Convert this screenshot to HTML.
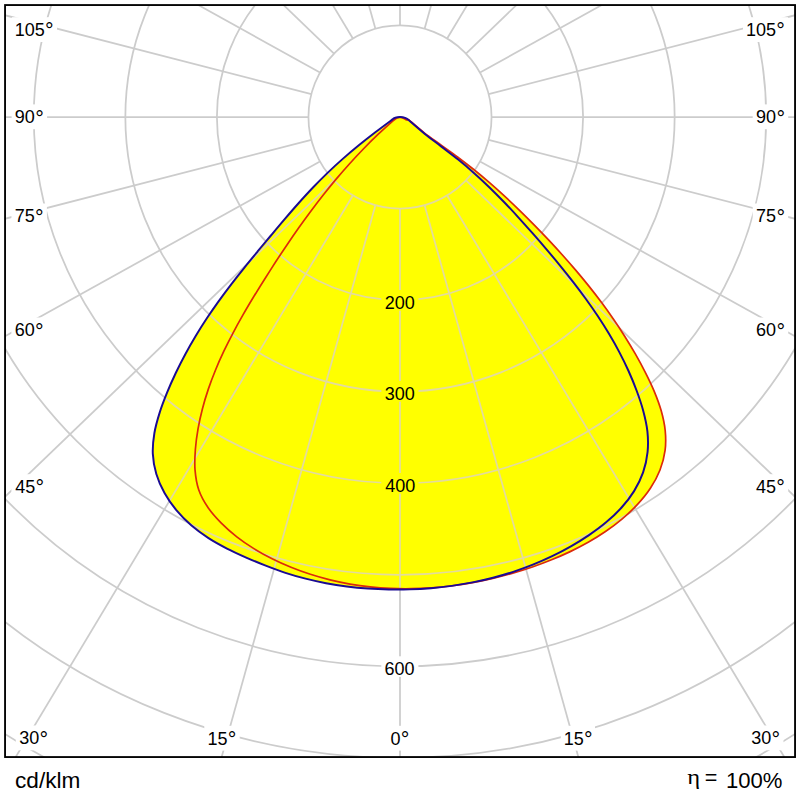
<!DOCTYPE html>
<html><head><meta charset="utf-8"><title>Polar</title>
<style>
html,body{margin:0;padding:0;background:#fff;}
body{width:800px;height:800px;overflow:hidden;font-family:"Liberation Sans",sans-serif;}
svg{display:block;}
text{font-family:"Liberation Sans",sans-serif;font-size:18px;fill:#000;}
.b{font-size:21.5px;}
</style></head><body>
<svg width="800" height="800" viewBox="0 0 800 800">
<defs>
<clipPath id="frame"><rect x="5.05" y="5.05" width="790.0" height="752.0"/></clipPath>
<clipPath id="fillclip"><path d="M392.51,119.40C389.81,121.41 380.99,127.90 375.65,132.01C370.30,136.11 364.33,140.79 359.11,145.05C353.89,149.32 348.08,154.19 343.03,158.64C337.98,163.09 332.39,168.20 327.55,172.86C322.71,177.52 317.40,182.90 312.75,187.76C308.11,192.62 303.02,198.22 298.53,203.24C294.04,208.26 289.09,214.00 284.70,219.12C280.32,224.24 275.45,230.07 271.12,235.25C266.78,240.42 261.91,246.26 257.61,251.47C253.31,256.67 248.47,262.52 244.25,267.78C240.02,273.03 235.31,278.96 231.23,284.29C227.14,289.62 222.63,295.67 218.74,301.12C214.84,306.57 210.55,312.75 206.86,318.33C203.18,323.92 199.14,330.27 195.69,336.01C192.24,341.75 188.49,348.29 185.30,354.21C182.11,360.13 178.66,366.89 175.76,373.01C172.86,379.13 169.73,386.14 167.16,392.48C164.58,398.82 161.72,406.13 159.67,412.65C157.62,419.18 155.46,426.67 154.37,433.26C153.27,439.85 152.51,447.34 152.82,453.85C153.13,460.36 154.44,467.70 156.32,473.97C158.19,480.23 161.29,487.20 164.53,493.03C167.77,498.87 172.24,505.23 176.55,510.43C180.87,515.64 186.38,521.14 191.50,525.57C196.61,529.99 202.84,534.43 208.52,538.10C214.20,541.78 220.94,545.43 226.97,548.54C233.00,551.65 240.02,554.80 246.22,557.54C252.42,560.28 259.43,563.22 265.71,565.67C271.98,568.11 279.04,570.74 285.42,572.81C291.79,574.89 299.05,576.99 305.55,578.64C312.05,580.30 319.44,581.92 326.04,583.17C332.64,584.42 340.13,585.59 346.81,586.45C353.48,587.30 361.04,588.05 367.77,588.53C374.49,589.02 382.09,589.35 388.83,589.49C395.58,589.62 403.18,589.57 409.92,589.36C416.66,589.15 424.24,588.72 430.95,588.16C437.66,587.60 445.20,586.77 451.86,585.85C458.52,584.93 465.99,583.69 472.58,582.39C479.17,581.09 486.54,579.43 493.03,577.74C499.53,576.05 506.78,573.94 513.16,571.85C519.54,569.76 526.65,567.19 532.89,564.69C539.13,562.19 546.08,559.14 552.15,556.21C558.23,553.28 564.99,549.74 570.88,546.37C576.78,543.00 583.37,538.97 589.00,535.13C594.63,531.28 600.91,526.72 606.09,522.34C611.27,517.96 616.90,512.75 621.38,507.75C625.85,502.76 630.60,496.77 634.07,491.12C637.55,485.47 640.95,478.67 643.11,472.44C645.27,466.22 646.87,458.79 647.56,452.22C648.25,445.65 648.11,438.01 647.41,431.36C646.71,424.71 644.94,417.20 643.20,410.66C641.47,404.13 638.92,396.84 636.57,390.50C634.23,384.15 631.31,377.14 628.55,371.00C625.79,364.86 622.44,358.07 619.31,352.12C616.18,346.17 612.45,339.59 609.00,333.82C605.55,328.04 601.48,321.65 597.76,316.03C594.03,310.42 589.68,304.20 585.72,298.73C581.77,293.25 577.18,287.18 573.04,281.84C568.90,276.49 564.13,270.56 559.85,265.32C555.57,260.09 550.67,254.27 546.29,249.13C541.92,243.99 536.95,238.25 532.51,233.20C528.06,228.15 523.05,222.50 518.53,217.55C514.01,212.60 508.89,207.08 504.24,202.27C499.60,197.45 494.32,192.10 489.51,187.45C484.70,182.79 479.21,177.64 474.20,173.19C469.18,168.73 463.42,163.83 458.17,159.58C452.93,155.34 446.78,150.77 441.41,146.64C436.04,142.50 429.83,137.99 424.59,133.74C419.35,129.50 411.20,122.27 408.65,120.08Q405.83,116.90 400,116.9Q394.75,116.9 392.51,119.40Z"/><path d="M393.62,120.27C391.16,122.50 383.06,129.68 378.26,134.23C373.46,138.79 368.19,144.01 363.60,148.72C359.01,153.44 353.97,158.83 349.58,163.70C345.19,168.56 340.36,174.12 336.15,179.12C331.93,184.13 327.29,189.84 323.24,194.97C319.18,200.10 314.71,205.95 310.80,211.19C306.89,216.44 302.56,222.41 298.77,227.76C294.98,233.12 290.79,239.20 287.10,244.65C283.41,250.09 279.33,256.27 275.72,261.80C272.12,267.33 268.12,273.60 264.59,279.20C261.06,284.80 257.10,291.14 253.67,296.81C250.23,302.49 246.40,308.91 243.11,314.66C239.82,320.42 236.19,326.94 233.11,332.79C230.03,338.64 226.67,345.26 223.85,351.22C221.04,357.17 218.01,363.92 215.53,369.99C213.04,376.06 210.42,382.95 208.33,389.14C206.24,395.34 204.09,402.37 202.45,408.71C200.80,415.04 199.20,422.24 198.07,428.72C196.94,435.20 195.88,442.62 195.39,449.21C194.91,455.80 194.50,463.43 195.03,469.90C195.57,476.38 196.65,483.69 198.72,489.70C200.80,495.72 204.37,502.15 207.98,507.50C211.60,512.85 216.70,518.44 221.32,523.13C225.93,527.82 231.60,532.72 236.81,536.80C242.02,540.88 248.25,545.12 253.90,548.63C259.55,552.14 266.18,555.76 272.12,558.75C278.05,561.73 284.89,564.79 291.01,567.28C297.12,569.77 304.09,572.29 310.33,574.31C316.57,576.32 323.66,578.32 330.01,579.88C336.35,581.44 343.55,582.93 349.98,584.05C356.41,585.17 363.70,586.18 370.19,586.88C376.69,587.58 384.04,588.12 390.58,588.41C397.12,588.70 404.51,588.79 411.07,588.69C417.64,588.60 425.04,588.26 431.61,587.79C438.18,587.32 445.58,586.57 452.13,585.74C458.68,584.91 466.05,583.78 472.56,582.60C479.07,581.43 486.37,579.91 492.80,578.40C499.24,576.89 506.44,575.00 512.78,573.16C519.11,571.33 526.18,569.08 532.39,566.94C538.59,564.79 545.51,562.21 551.55,559.75C557.60,557.30 564.32,554.40 570.18,551.61C576.04,548.82 582.54,545.51 588.18,542.30C593.83,539.09 600.07,535.27 605.47,531.55C610.87,527.84 616.87,523.38 621.96,519.08C627.05,514.78 632.74,509.60 637.28,504.68C641.83,499.76 646.74,493.87 650.37,488.33C654.01,482.79 657.65,476.12 660.00,470.04C662.36,463.97 664.25,456.71 665.08,450.39C665.91,444.07 665.81,436.86 665.20,430.52C664.58,424.19 662.98,417.05 661.22,410.77C659.47,404.50 656.78,397.47 654.23,391.31C651.68,385.16 648.31,378.30 645.29,372.32C642.26,366.34 638.63,359.72 635.33,353.94C632.04,348.16 628.19,341.77 624.67,336.18C621.15,330.59 617.06,324.41 613.34,319.00C609.61,313.58 605.31,307.59 601.40,302.33C597.49,297.07 592.98,291.25 588.89,286.14C584.81,281.02 580.12,275.35 575.89,270.36C571.65,265.38 566.80,259.84 562.42,254.96C558.05,250.09 553.05,244.67 548.56,239.89C544.06,235.10 538.94,229.77 534.33,225.08C529.73,220.39 524.49,215.15 519.78,210.56C515.06,205.97 509.69,200.86 504.85,196.41C500.00,191.95 494.49,187.00 489.51,182.70C484.54,178.39 478.87,173.64 473.75,169.52C468.63,165.40 462.77,160.88 457.51,156.95C452.25,153.02 446.17,148.82 440.86,144.96C435.55,141.09 429.48,136.87 424.31,132.81C419.14,128.74 411.06,121.68 408.53,119.56L406.5,120.0Q402,117.2 400,117.2Q397,117.4 393.62,120.27Z"/></clipPath>
<g id="grid" fill="none" stroke-width="1.75">
<circle cx="400.0" cy="117.0" r="91.55"/>
<circle cx="400.0" cy="117.0" r="183.10"/>
<circle cx="400.0" cy="117.0" r="274.65"/>
<circle cx="400.0" cy="117.0" r="366.20"/>
<circle cx="400.0" cy="117.0" r="457.75"/>
<circle cx="400.0" cy="117.0" r="549.30"/>
<circle cx="400.0" cy="117.0" r="640.85"/>
<circle cx="400.0" cy="117.0" r="732.40"/>
<circle cx="400.0" cy="117.0" r="823.95"/>
<line x1="400.00" y1="208.55" x2="400.00" y2="1117.00"/>
<line x1="424.58" y1="205.19" x2="668.44" y2="1080.30"/>
<line x1="447.13" y1="195.49" x2="914.78" y2="974.32"/>
<line x1="465.99" y1="180.45" x2="1120.83" y2="810.11"/>
<line x1="480.04" y1="161.44" x2="1274.31" y2="602.37"/>
<line x1="488.65" y1="139.84" x2="1368.38" y2="366.50"/>
<line x1="491.55" y1="117.00" x2="1400.00" y2="117.00"/>
<line x1="488.65" y1="94.16" x2="1368.38" y2="-132.50"/>
<line x1="480.04" y1="72.56" x2="1274.31" y2="-368.37"/>
<line x1="465.99" y1="53.55" x2="1120.83" y2="-576.11"/>
<line x1="447.13" y1="38.51" x2="914.78" y2="-740.32"/>
<line x1="424.58" y1="28.81" x2="668.44" y2="-846.30"/>
<line x1="400.00" y1="25.45" x2="400.00" y2="-883.00"/>
<line x1="375.42" y1="28.81" x2="131.56" y2="-846.30"/>
<line x1="352.87" y1="38.51" x2="-114.78" y2="-740.32"/>
<line x1="334.01" y1="53.55" x2="-320.83" y2="-576.11"/>
<line x1="319.96" y1="72.56" x2="-474.31" y2="-368.37"/>
<line x1="311.35" y1="94.16" x2="-568.38" y2="-132.50"/>
<line x1="308.45" y1="117.00" x2="-600.00" y2="117.00"/>
<line x1="311.35" y1="139.84" x2="-568.38" y2="366.50"/>
<line x1="319.96" y1="161.44" x2="-474.31" y2="602.37"/>
<line x1="334.01" y1="180.45" x2="-320.83" y2="810.11"/>
<line x1="352.87" y1="195.49" x2="-114.78" y2="974.32"/>
<line x1="375.42" y1="205.19" x2="131.56" y2="1080.30"/>
</g>
</defs>
<rect width="800" height="800" fill="#fff"/>
<g clip-path="url(#frame)">
<use href="#grid" stroke="#cccccc"/>
<path d="M392.51,119.40C389.81,121.41 380.99,127.90 375.65,132.01C370.30,136.11 364.33,140.79 359.11,145.05C353.89,149.32 348.08,154.19 343.03,158.64C337.98,163.09 332.39,168.20 327.55,172.86C322.71,177.52 317.40,182.90 312.75,187.76C308.11,192.62 303.02,198.22 298.53,203.24C294.04,208.26 289.09,214.00 284.70,219.12C280.32,224.24 275.45,230.07 271.12,235.25C266.78,240.42 261.91,246.26 257.61,251.47C253.31,256.67 248.47,262.52 244.25,267.78C240.02,273.03 235.31,278.96 231.23,284.29C227.14,289.62 222.63,295.67 218.74,301.12C214.84,306.57 210.55,312.75 206.86,318.33C203.18,323.92 199.14,330.27 195.69,336.01C192.24,341.75 188.49,348.29 185.30,354.21C182.11,360.13 178.66,366.89 175.76,373.01C172.86,379.13 169.73,386.14 167.16,392.48C164.58,398.82 161.72,406.13 159.67,412.65C157.62,419.18 155.46,426.67 154.37,433.26C153.27,439.85 152.51,447.34 152.82,453.85C153.13,460.36 154.44,467.70 156.32,473.97C158.19,480.23 161.29,487.20 164.53,493.03C167.77,498.87 172.24,505.23 176.55,510.43C180.87,515.64 186.38,521.14 191.50,525.57C196.61,529.99 202.84,534.43 208.52,538.10C214.20,541.78 220.94,545.43 226.97,548.54C233.00,551.65 240.02,554.80 246.22,557.54C252.42,560.28 259.43,563.22 265.71,565.67C271.98,568.11 279.04,570.74 285.42,572.81C291.79,574.89 299.05,576.99 305.55,578.64C312.05,580.30 319.44,581.92 326.04,583.17C332.64,584.42 340.13,585.59 346.81,586.45C353.48,587.30 361.04,588.05 367.77,588.53C374.49,589.02 382.09,589.35 388.83,589.49C395.58,589.62 403.18,589.57 409.92,589.36C416.66,589.15 424.24,588.72 430.95,588.16C437.66,587.60 445.20,586.77 451.86,585.85C458.52,584.93 465.99,583.69 472.58,582.39C479.17,581.09 486.54,579.43 493.03,577.74C499.53,576.05 506.78,573.94 513.16,571.85C519.54,569.76 526.65,567.19 532.89,564.69C539.13,562.19 546.08,559.14 552.15,556.21C558.23,553.28 564.99,549.74 570.88,546.37C576.78,543.00 583.37,538.97 589.00,535.13C594.63,531.28 600.91,526.72 606.09,522.34C611.27,517.96 616.90,512.75 621.38,507.75C625.85,502.76 630.60,496.77 634.07,491.12C637.55,485.47 640.95,478.67 643.11,472.44C645.27,466.22 646.87,458.79 647.56,452.22C648.25,445.65 648.11,438.01 647.41,431.36C646.71,424.71 644.94,417.20 643.20,410.66C641.47,404.13 638.92,396.84 636.57,390.50C634.23,384.15 631.31,377.14 628.55,371.00C625.79,364.86 622.44,358.07 619.31,352.12C616.18,346.17 612.45,339.59 609.00,333.82C605.55,328.04 601.48,321.65 597.76,316.03C594.03,310.42 589.68,304.20 585.72,298.73C581.77,293.25 577.18,287.18 573.04,281.84C568.90,276.49 564.13,270.56 559.85,265.32C555.57,260.09 550.67,254.27 546.29,249.13C541.92,243.99 536.95,238.25 532.51,233.20C528.06,228.15 523.05,222.50 518.53,217.55C514.01,212.60 508.89,207.08 504.24,202.27C499.60,197.45 494.32,192.10 489.51,187.45C484.70,182.79 479.21,177.64 474.20,173.19C469.18,168.73 463.42,163.83 458.17,159.58C452.93,155.34 446.78,150.77 441.41,146.64C436.04,142.50 429.83,137.99 424.59,133.74C419.35,129.50 411.20,122.27 408.65,120.08Q405.83,116.90 400,116.9Q394.75,116.9 392.51,119.40Z" fill="#ffff00"/><path d="M393.62,120.27C391.16,122.50 383.06,129.68 378.26,134.23C373.46,138.79 368.19,144.01 363.60,148.72C359.01,153.44 353.97,158.83 349.58,163.70C345.19,168.56 340.36,174.12 336.15,179.12C331.93,184.13 327.29,189.84 323.24,194.97C319.18,200.10 314.71,205.95 310.80,211.19C306.89,216.44 302.56,222.41 298.77,227.76C294.98,233.12 290.79,239.20 287.10,244.65C283.41,250.09 279.33,256.27 275.72,261.80C272.12,267.33 268.12,273.60 264.59,279.20C261.06,284.80 257.10,291.14 253.67,296.81C250.23,302.49 246.40,308.91 243.11,314.66C239.82,320.42 236.19,326.94 233.11,332.79C230.03,338.64 226.67,345.26 223.85,351.22C221.04,357.17 218.01,363.92 215.53,369.99C213.04,376.06 210.42,382.95 208.33,389.14C206.24,395.34 204.09,402.37 202.45,408.71C200.80,415.04 199.20,422.24 198.07,428.72C196.94,435.20 195.88,442.62 195.39,449.21C194.91,455.80 194.50,463.43 195.03,469.90C195.57,476.38 196.65,483.69 198.72,489.70C200.80,495.72 204.37,502.15 207.98,507.50C211.60,512.85 216.70,518.44 221.32,523.13C225.93,527.82 231.60,532.72 236.81,536.80C242.02,540.88 248.25,545.12 253.90,548.63C259.55,552.14 266.18,555.76 272.12,558.75C278.05,561.73 284.89,564.79 291.01,567.28C297.12,569.77 304.09,572.29 310.33,574.31C316.57,576.32 323.66,578.32 330.01,579.88C336.35,581.44 343.55,582.93 349.98,584.05C356.41,585.17 363.70,586.18 370.19,586.88C376.69,587.58 384.04,588.12 390.58,588.41C397.12,588.70 404.51,588.79 411.07,588.69C417.64,588.60 425.04,588.26 431.61,587.79C438.18,587.32 445.58,586.57 452.13,585.74C458.68,584.91 466.05,583.78 472.56,582.60C479.07,581.43 486.37,579.91 492.80,578.40C499.24,576.89 506.44,575.00 512.78,573.16C519.11,571.33 526.18,569.08 532.39,566.94C538.59,564.79 545.51,562.21 551.55,559.75C557.60,557.30 564.32,554.40 570.18,551.61C576.04,548.82 582.54,545.51 588.18,542.30C593.83,539.09 600.07,535.27 605.47,531.55C610.87,527.84 616.87,523.38 621.96,519.08C627.05,514.78 632.74,509.60 637.28,504.68C641.83,499.76 646.74,493.87 650.37,488.33C654.01,482.79 657.65,476.12 660.00,470.04C662.36,463.97 664.25,456.71 665.08,450.39C665.91,444.07 665.81,436.86 665.20,430.52C664.58,424.19 662.98,417.05 661.22,410.77C659.47,404.50 656.78,397.47 654.23,391.31C651.68,385.16 648.31,378.30 645.29,372.32C642.26,366.34 638.63,359.72 635.33,353.94C632.04,348.16 628.19,341.77 624.67,336.18C621.15,330.59 617.06,324.41 613.34,319.00C609.61,313.58 605.31,307.59 601.40,302.33C597.49,297.07 592.98,291.25 588.89,286.14C584.81,281.02 580.12,275.35 575.89,270.36C571.65,265.38 566.80,259.84 562.42,254.96C558.05,250.09 553.05,244.67 548.56,239.89C544.06,235.10 538.94,229.77 534.33,225.08C529.73,220.39 524.49,215.15 519.78,210.56C515.06,205.97 509.69,200.86 504.85,196.41C500.00,191.95 494.49,187.00 489.51,182.70C484.54,178.39 478.87,173.64 473.75,169.52C468.63,165.40 462.77,160.88 457.51,156.95C452.25,153.02 446.17,148.82 440.86,144.96C435.55,141.09 429.48,136.87 424.31,132.81C419.14,128.74 411.06,121.68 408.53,119.56L406.5,120.0Q402,117.2 400,117.2Q397,117.4 393.62,120.27Z" fill="#ffff00"/>
<g clip-path="url(#fillclip)"><use href="#grid" stroke="#e3db9e"/></g>
<rect x="11.8" y="17.2" width="45.2" height="24.8" fill="#fff"/>
<text id="105L" x="14.75" y="36.0">105<tspan font-size="21.5" dx="0.3" dy="2.4">°</tspan></text>
<rect x="743.0" y="17.2" width="45.2" height="24.8" fill="#fff"/>
<text id="105R" x="745.90" y="36.0">105<tspan font-size="21.5" dx="0.3" dy="2.4">°</tspan></text>
<rect x="11.6" y="104.4" width="35.5" height="24.8" fill="#fff"/>
<text id="90L" x="14.85" y="123.2">90<tspan font-size="21.5" dx="0.3" dy="2.4">°</tspan></text>
<rect x="752.7" y="104.4" width="35.5" height="24.8" fill="#fff"/>
<text id="90R" x="756.05" y="123.2">90<tspan font-size="21.5" dx="0.3" dy="2.4">°</tspan></text>
<rect x="11.4" y="203.5" width="35.5" height="24.8" fill="#fff"/>
<text id="75L" x="14.70" y="222.3">75<tspan font-size="21.5" dx="0.3" dy="2.4">°</tspan></text>
<rect x="752.7" y="203.5" width="35.5" height="24.8" fill="#fff"/>
<text id="75R" x="756.05" y="222.3">75<tspan font-size="21.5" dx="0.3" dy="2.4">°</tspan></text>
<rect x="11.4" y="317.5" width="35.5" height="24.8" fill="#fff"/>
<text id="60L" x="14.70" y="336.3">60<tspan font-size="21.5" dx="0.3" dy="2.4">°</tspan></text>
<rect x="752.7" y="317.5" width="35.5" height="24.8" fill="#fff"/>
<text id="60R" x="756.05" y="336.3">60<tspan font-size="21.5" dx="0.3" dy="2.4">°</tspan></text>
<rect x="11.4" y="474.2" width="35.5" height="24.8" fill="#fff"/>
<text id="45L" x="15.20" y="493.0">45<tspan font-size="21.5" dx="0.3" dy="2.4">°</tspan></text>
<rect x="752.7" y="474.2" width="35.5" height="24.8" fill="#fff"/>
<text id="45R" x="755.95" y="493.0">45<tspan font-size="21.5" dx="0.3" dy="2.4">°</tspan></text>
<rect x="15.8" y="725.5" width="35.7" height="24.8" fill="#fff"/>
<text id="30L" x="19.25" y="744.3">30<tspan font-size="21.5" dx="0.3" dy="2.4">°</tspan></text>
<rect x="747.8" y="725.5" width="35.7" height="24.8" fill="#fff"/>
<text id="30R" x="751.25" y="744.3">30<tspan font-size="21.5" dx="0.3" dy="2.4">°</tspan></text>
<rect x="204.3" y="725.8" width="35.4" height="24.8" fill="#fff"/>
<text id="15L" x="207.45" y="744.6">15<tspan font-size="21.5" dx="0.3" dy="2.4">°</tspan></text>
<rect x="560.8" y="725.8" width="34.2" height="24.8" fill="#fff"/>
<text id="15R" x="563.75" y="744.6">15<tspan font-size="21.5" dx="0.3" dy="2.4">°</tspan></text>
<rect x="386.6" y="725.8" width="26.7" height="24.8" fill="#fff"/>
<text id="0" x="390.55" y="744.6">0<tspan font-size="21.5" dx="0.3" dy="2.4">°</tspan></text>
<rect x="381.3" y="290.0" width="37.2" height="20.6" fill="#ffff00"/>
<text id="200" x="384.85" y="308.7">200</text>
<rect x="381.3" y="381.0" width="37.2" height="20.6" fill="#ffff00"/>
<text id="300" x="384.85" y="399.7">300</text>
<rect x="381.3" y="473.0" width="37.2" height="20.6" fill="#ffff00"/>
<text id="400" x="385.35" y="491.7">400</text>
<rect x="381.3" y="656.3" width="37.1" height="20.6" fill="#fff"/>
<text id="600" x="384.60" y="675.0">600</text>
<path d="M393.62,120.27C391.16,122.50 383.06,129.68 378.26,134.23C373.46,138.79 368.19,144.01 363.60,148.72C359.01,153.44 353.97,158.83 349.58,163.70C345.19,168.56 340.36,174.12 336.15,179.12C331.93,184.13 327.29,189.84 323.24,194.97C319.18,200.10 314.71,205.95 310.80,211.19C306.89,216.44 302.56,222.41 298.77,227.76C294.98,233.12 290.79,239.20 287.10,244.65C283.41,250.09 279.33,256.27 275.72,261.80C272.12,267.33 268.12,273.60 264.59,279.20C261.06,284.80 257.10,291.14 253.67,296.81C250.23,302.49 246.40,308.91 243.11,314.66C239.82,320.42 236.19,326.94 233.11,332.79C230.03,338.64 226.67,345.26 223.85,351.22C221.04,357.17 218.01,363.92 215.53,369.99C213.04,376.06 210.42,382.95 208.33,389.14C206.24,395.34 204.09,402.37 202.45,408.71C200.80,415.04 199.20,422.24 198.07,428.72C196.94,435.20 195.88,442.62 195.39,449.21C194.91,455.80 194.50,463.43 195.03,469.90C195.57,476.38 196.65,483.69 198.72,489.70C200.80,495.72 204.37,502.15 207.98,507.50C211.60,512.85 216.70,518.44 221.32,523.13C225.93,527.82 231.60,532.72 236.81,536.80C242.02,540.88 248.25,545.12 253.90,548.63C259.55,552.14 266.18,555.76 272.12,558.75C278.05,561.73 284.89,564.79 291.01,567.28C297.12,569.77 304.09,572.29 310.33,574.31C316.57,576.32 323.66,578.32 330.01,579.88C336.35,581.44 343.55,582.93 349.98,584.05C356.41,585.17 363.70,586.18 370.19,586.88C376.69,587.58 384.04,588.12 390.58,588.41C397.12,588.70 404.51,588.79 411.07,588.69C417.64,588.60 425.04,588.26 431.61,587.79C438.18,587.32 445.58,586.57 452.13,585.74C458.68,584.91 466.05,583.78 472.56,582.60C479.07,581.43 486.37,579.91 492.80,578.40C499.24,576.89 506.44,575.00 512.78,573.16C519.11,571.33 526.18,569.08 532.39,566.94C538.59,564.79 545.51,562.21 551.55,559.75C557.60,557.30 564.32,554.40 570.18,551.61C576.04,548.82 582.54,545.51 588.18,542.30C593.83,539.09 600.07,535.27 605.47,531.55C610.87,527.84 616.87,523.38 621.96,519.08C627.05,514.78 632.74,509.60 637.28,504.68C641.83,499.76 646.74,493.87 650.37,488.33C654.01,482.79 657.65,476.12 660.00,470.04C662.36,463.97 664.25,456.71 665.08,450.39C665.91,444.07 665.81,436.86 665.20,430.52C664.58,424.19 662.98,417.05 661.22,410.77C659.47,404.50 656.78,397.47 654.23,391.31C651.68,385.16 648.31,378.30 645.29,372.32C642.26,366.34 638.63,359.72 635.33,353.94C632.04,348.16 628.19,341.77 624.67,336.18C621.15,330.59 617.06,324.41 613.34,319.00C609.61,313.58 605.31,307.59 601.40,302.33C597.49,297.07 592.98,291.25 588.89,286.14C584.81,281.02 580.12,275.35 575.89,270.36C571.65,265.38 566.80,259.84 562.42,254.96C558.05,250.09 553.05,244.67 548.56,239.89C544.06,235.10 538.94,229.77 534.33,225.08C529.73,220.39 524.49,215.15 519.78,210.56C515.06,205.97 509.69,200.86 504.85,196.41C500.00,191.95 494.49,187.00 489.51,182.70C484.54,178.39 478.87,173.64 473.75,169.52C468.63,165.40 462.77,160.88 457.51,156.95C452.25,153.02 446.17,148.82 440.86,144.96C435.55,141.09 429.48,136.87 424.31,132.81C419.14,128.74 411.06,121.68 408.53,119.56L406.5,120.0Q402,117.2 400,117.2Q397,117.4 393.62,120.27Z" fill="none" stroke="#dc2a0c" stroke-width="1.7" stroke-linejoin="round"/>
<path d="M392.51,119.40C389.81,121.41 380.99,127.90 375.65,132.01C370.30,136.11 364.33,140.79 359.11,145.05C353.89,149.32 348.08,154.19 343.03,158.64C337.98,163.09 332.39,168.20 327.55,172.86C322.71,177.52 317.40,182.90 312.75,187.76C308.11,192.62 303.02,198.22 298.53,203.24C294.04,208.26 289.09,214.00 284.70,219.12C280.32,224.24 275.45,230.07 271.12,235.25C266.78,240.42 261.91,246.26 257.61,251.47C253.31,256.67 248.47,262.52 244.25,267.78C240.02,273.03 235.31,278.96 231.23,284.29C227.14,289.62 222.63,295.67 218.74,301.12C214.84,306.57 210.55,312.75 206.86,318.33C203.18,323.92 199.14,330.27 195.69,336.01C192.24,341.75 188.49,348.29 185.30,354.21C182.11,360.13 178.66,366.89 175.76,373.01C172.86,379.13 169.73,386.14 167.16,392.48C164.58,398.82 161.72,406.13 159.67,412.65C157.62,419.18 155.46,426.67 154.37,433.26C153.27,439.85 152.51,447.34 152.82,453.85C153.13,460.36 154.44,467.70 156.32,473.97C158.19,480.23 161.29,487.20 164.53,493.03C167.77,498.87 172.24,505.23 176.55,510.43C180.87,515.64 186.38,521.14 191.50,525.57C196.61,529.99 202.84,534.43 208.52,538.10C214.20,541.78 220.94,545.43 226.97,548.54C233.00,551.65 240.02,554.80 246.22,557.54C252.42,560.28 259.43,563.22 265.71,565.67C271.98,568.11 279.04,570.74 285.42,572.81C291.79,574.89 299.05,576.99 305.55,578.64C312.05,580.30 319.44,581.92 326.04,583.17C332.64,584.42 340.13,585.59 346.81,586.45C353.48,587.30 361.04,588.05 367.77,588.53C374.49,589.02 382.09,589.35 388.83,589.49C395.58,589.62 403.18,589.57 409.92,589.36C416.66,589.15 424.24,588.72 430.95,588.16C437.66,587.60 445.20,586.77 451.86,585.85C458.52,584.93 465.99,583.69 472.58,582.39C479.17,581.09 486.54,579.43 493.03,577.74C499.53,576.05 506.78,573.94 513.16,571.85C519.54,569.76 526.65,567.19 532.89,564.69C539.13,562.19 546.08,559.14 552.15,556.21C558.23,553.28 564.99,549.74 570.88,546.37C576.78,543.00 583.37,538.97 589.00,535.13C594.63,531.28 600.91,526.72 606.09,522.34C611.27,517.96 616.90,512.75 621.38,507.75C625.85,502.76 630.60,496.77 634.07,491.12C637.55,485.47 640.95,478.67 643.11,472.44C645.27,466.22 646.87,458.79 647.56,452.22C648.25,445.65 648.11,438.01 647.41,431.36C646.71,424.71 644.94,417.20 643.20,410.66C641.47,404.13 638.92,396.84 636.57,390.50C634.23,384.15 631.31,377.14 628.55,371.00C625.79,364.86 622.44,358.07 619.31,352.12C616.18,346.17 612.45,339.59 609.00,333.82C605.55,328.04 601.48,321.65 597.76,316.03C594.03,310.42 589.68,304.20 585.72,298.73C581.77,293.25 577.18,287.18 573.04,281.84C568.90,276.49 564.13,270.56 559.85,265.32C555.57,260.09 550.67,254.27 546.29,249.13C541.92,243.99 536.95,238.25 532.51,233.20C528.06,228.15 523.05,222.50 518.53,217.55C514.01,212.60 508.89,207.08 504.24,202.27C499.60,197.45 494.32,192.10 489.51,187.45C484.70,182.79 479.21,177.64 474.20,173.19C469.18,168.73 463.42,163.83 458.17,159.58C452.93,155.34 446.78,150.77 441.41,146.64C436.04,142.50 429.83,137.99 424.59,133.74C419.35,129.50 411.20,122.27 408.65,120.08Q405.83,116.90 400,116.9Q394.75,116.9 392.51,119.40Z" fill="none" stroke="#1a0a94" stroke-width="1.95" stroke-linejoin="round"/>
</g>
<rect x="5.05" y="5.05" width="790.0" height="752.0" fill="none" stroke="#000" stroke-width="1.85"/>
<text id="cd" x="15.00" y="787.6" style="font-size:22px" textLength="65.35" lengthAdjust="spacingAndGlyphs">cd/klm</text>
<text id="eta" x="0" y="0" style="font-family:'Liberation Serif',serif;font-size:22px" transform="translate(687.30,783.60) scale(1.12,1)">η</text>
<text id="eq" x="704.85" y="784.6" style="font-size:21.5px" textLength="12.6" lengthAdjust="spacingAndGlyphs">=</text>
<text id="pct" x="725.95" y="787.8" style="font-size:21.5px" textLength="56.50" lengthAdjust="spacingAndGlyphs">100%</text>
</svg>
</body></html>
